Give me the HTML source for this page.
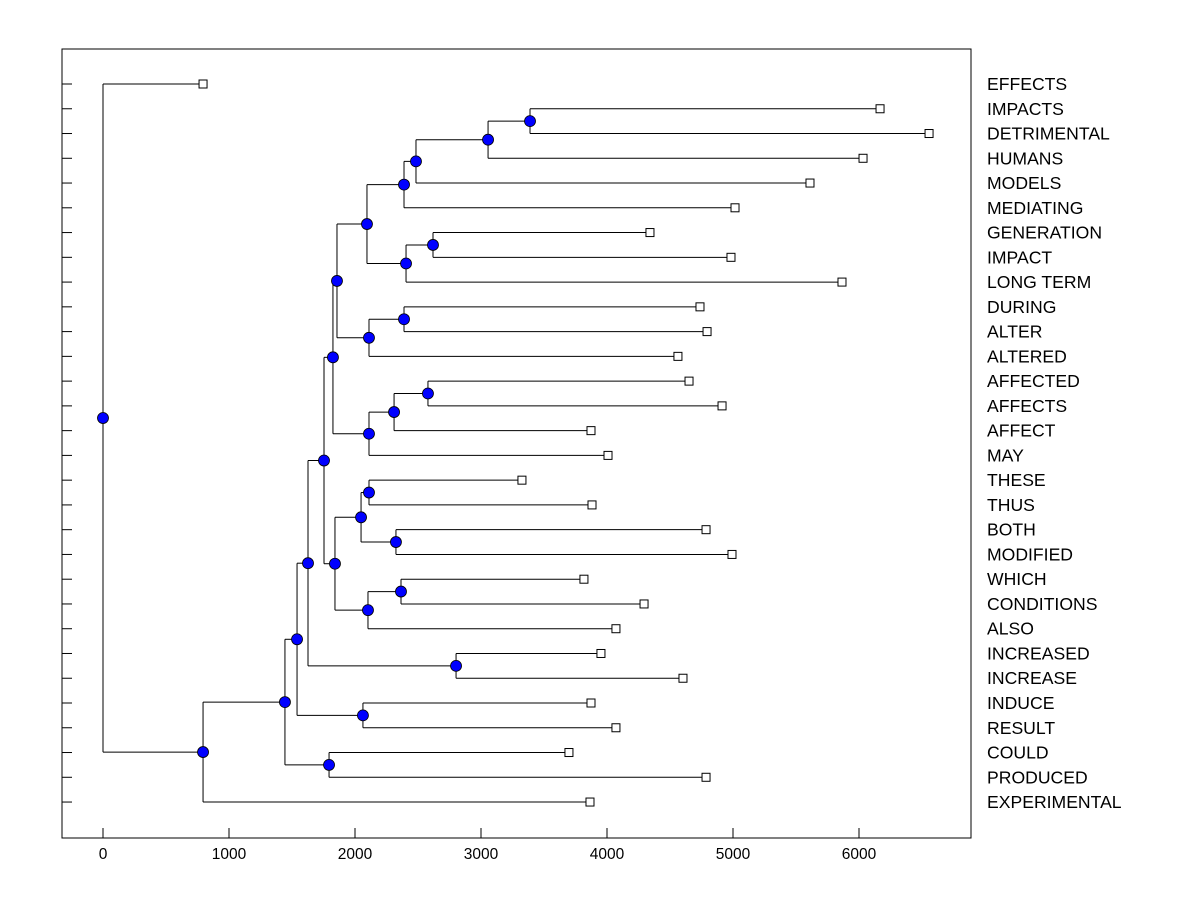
<!DOCTYPE html>
<html><head><meta charset="utf-8"><style>
html,body{margin:0;padding:0;background:#fff;}
svg{display:block;font-family:"Liberation Sans",Arial,sans-serif;}
</style></head><body>
<svg id="chart" width="1200" height="900" xmlns="http://www.w3.org/2000/svg">
<rect x="62" y="49" width="909" height="789" fill="none" stroke="#000" stroke-width="1"/>
<g id="xaxis"></g>
<g id="yticks"></g>
<g id="links"></g>
<g id="marks"></g>
<g id="labels"></g>
</svg>
<script>
const leafLabels = ["EFFECTS","IMPACTS","DETRIMENTAL","HUMANS","MODELS","MEDIATING","GENERATION","IMPACT","LONG TERM","DURING","ALTER","ALTERED","AFFECTED","AFFECTS","AFFECT","MAY","THESE","THUS","BOTH","MODIFIED","WHICH","CONDITIONS","ALSO","INCREASED","INCREASE","INDUCE","RESULT","COULD","PRODUCED","EXPERIMENTAL"];
const leafValues = [794,6167,6556,6032,5611,5016,4341,4984,5865,4738,4794,4563,4651,4913,3873,4008,3325,3881,4786,4992,3817,4294,4071,3952,4603,3873,4071,3698,4786,3865];
const NL = ["L1","n0","n1","n2","L6","n4","n3","L9","n7","n6","L12","n10","n11","n9","L16","L18","n14","L20","n17","n16","n13","L23","n20","L25","n22","L27","n24","n26","L0"];
const NR = ["L2","L3","L4","L5","L7","L8","n5","L10","L11","n8","L13","L14","L15","n12","L17","L19","n15","L21","L22","n18","n19","L24","n21","L26","n23","L28","n25","L29","n27"];
const NH = [3389,3056,2484,2389,2619,2405,2095,2389,2111,1857,2579,2310,2111,1825,2111,2325,2048,2365,2103,1841,1754,2802,1627,2063,1540,1794,1444,794,0];
const tickValues = [0,1000,2000,3000,4000,5000,6000];
const tickLabels = ["0","1000","2000","3000","4000","5000","6000"];

const NS="http://www.w3.org/2000/svg";
const xS = v => 103 + v*0.126;
const yS = i => 84 + i*24.76;
function mk(tag, attrs, parent){const e=document.createElementNS(NS,tag);for(const k in attrs)e.setAttribute(k,attrs[k]);parent.appendChild(e);return e;}
const gx=document.getElementById('xaxis'), gy=document.getElementById('yticks'), gl=document.getElementById('links'), gm=document.getElementById('marks'), gt=document.getElementById('labels');
tickValues.forEach((v,i)=>{
  const t=mk('line',{x1:xS(v),x2:xS(v),y1:838,y2:828,stroke:'#000'},gx);
  
  
  const l=mk('text',{x:xS(v),y:859,'text-anchor':'middle','font-size':'15.5'},gx);
  l.textContent=tickLabels[i];
  
  
});
leafLabels.forEach((s,i)=>{
  const t=mk('line',{x1:62,x2:72,y1:yS(i),y2:yS(i),stroke:'#000'},gy);
  
  
  const l=mk('text',{x:987,y:yS(i)+6,'font-size':'17.6'},gt);
  l.textContent=s;
  
  
});
const pos={};
leafValues.forEach((v,i)=>{pos['L'+i]={x:xS(v),y:yS(i)};});
for(let k=0;k<NH.length;k++){
  const a=pos[NL[k]], b=pos[NR[k]], x=xS(NH[k]);
  pos['n'+k]={x:x,y:(a.y+b.y)/2};
  [a,b].forEach(c=>{
    const h=mk('line',{x1:x,x2:c.x,y1:c.y,y2:c.y,stroke:'#000'},gl);
    
    
  });
  const v=mk('line',{x1:x,x2:x,y1:a.y,y2:b.y,stroke:'#000'},gl);
  
  
}
leafValues.forEach((v,i)=>{
  const p=pos['L'+i];
  const r=mk('rect',{x:p.x-4,y:p.y-4,width:8,height:8,fill:'#fff',stroke:'#000'},gm);
  
  
});
for(let k=0;k<NH.length;k++){
  const p=pos['n'+k];
  const c=mk('circle',{cx:p.x,cy:p.y,r:5.5,fill:'#0000ff',stroke:'#000','stroke-width':'0.8'},gm);
  
  
}
</script>
</body></html>
